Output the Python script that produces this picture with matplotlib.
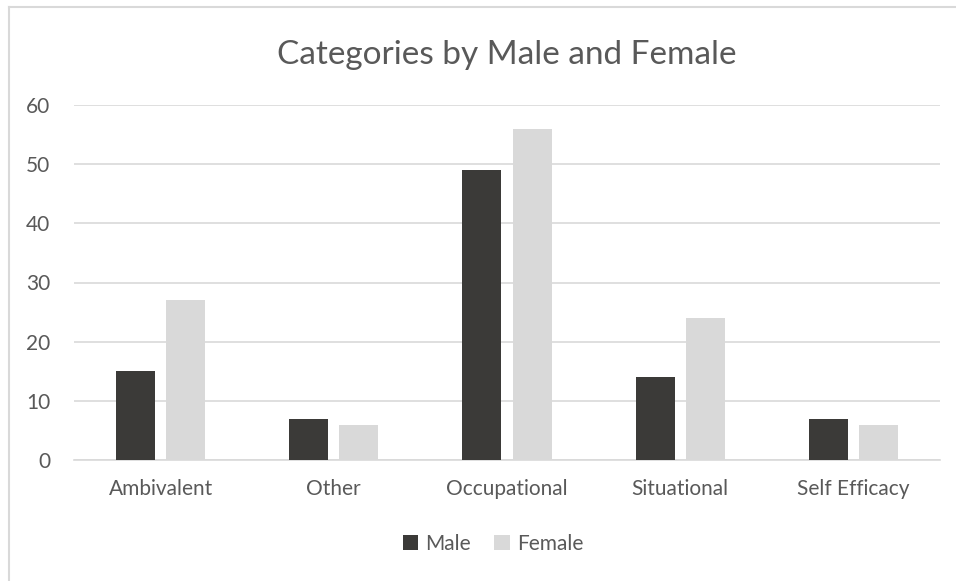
import matplotlib.pyplot as plt
import numpy as np
from matplotlib.lines import Line2D

categories = ['Ambivalent', 'Other', 'Occupational', 'Situational', 'Self Efficacy']
male = [15, 7, 49, 14, 7]
female = [27, 6, 56, 24, 6]
yticks = [0, 10, 20, 30, 40, 50, 60]

plt.rcParams['font.family'] = ['Lato', 'DejaVu Sans']
text_col = '#595959'
grid_col = '#d9d9d9'

fig = plt.figure(figsize=(9.56, 5.81), dpi=100)
W, H = 956, 581
ax = fig.add_axes([74 / W, 1 - 460 / H, (940 - 74) / W, (460 - 105) / H])

x = np.arange(len(categories))
bw = 0.225
gap = 0.065
ax.bar(x - (bw + gap) / 2, male, bw, color='#3b3a38', label='Male', zorder=3)
ax.bar(x + (bw + gap) / 2, female, bw, color='#d9d9d9', label='Female', zorder=3)

ax.set_xlim(-0.5, len(categories) - 0.5)
ax.set_ylim(0, 60)
ax.set_yticks(yticks)
ax.set_xticks(x)
ax.set_xticklabels(categories)
ax.yaxis.grid(True, color=grid_col, linewidth=1.2, zorder=0)
for s in ['top', 'right', 'left']:
    ax.spines[s].set_visible(False)
ax.spines['bottom'].set_color(grid_col)
ax.spines['bottom'].set_linewidth(1.2)
ax.tick_params(axis='both', length=0, labelsize=15, colors=text_col)
ax.tick_params(axis='y', pad=17)
ax.tick_params(axis='x', pad=14)

fig.text(0.5 * (74 + 940) / W, 1 - 55 / H, 'Categories by Male and Female',
         ha='center', va='center', fontsize=24, color=text_col)

leg = fig.legend(loc='center', bbox_to_anchor=(493 / W, 1 - 544 / H), ncol=2,
                 frameon=False, fontsize=15, handlelength=0.75, handleheight=0.75,
                 columnspacing=1.1, handletextpad=0.35)
for t in leg.get_texts():
    t.set_color(text_col)

# chart border
fig.add_artist(Line2D([9 / W, 9 / W], [0, 1 - 7 / H], color=grid_col, linewidth=1.5,
                      transform=fig.transFigure))
fig.add_artist(Line2D([9 / W, 1], [1 - 7 / H, 1 - 7 / H], color=grid_col, linewidth=1.5,
                      transform=fig.transFigure))

fig.savefig('out.png', dpi=100)
